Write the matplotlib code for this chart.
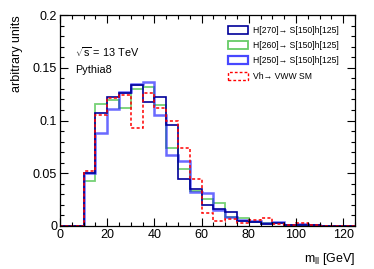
import numpy as np
import matplotlib
matplotlib.use("Agg")
import matplotlib.pyplot as plt
from matplotlib.patches import Patch
from matplotlib.ticker import MultipleLocator, FixedLocator

plt.rcParams['font.family'] = ['Liberation Sans', 'DejaVu Sans']
plt.rcParams['mathtext.fontset'] = 'custom'
plt.rcParams['mathtext.rm'] = 'Liberation Sans'
plt.rcParams['mathtext.it'] = 'Liberation Sans:italic'

# bin edges (GeV)
edges = np.arange(0, 130, 5)

h270 = [0, 0, 0.050, 0.107, 0.122, 0.126, 0.134, 0.118, 0.122, 0.096, 0.045, 0.035,
        0.020, 0.0158, 0.013, 0.005, 0.004, 0.002, 0.003, 0.001, 0.001, 0.0005, 0.0003, 0.0002, 0.0002]
h260 = [0, 0, 0.043, 0.116, 0.119, 0.112, 0.130, 0.132, 0.1147, 0.0736, 0.0537, 0.0335,
        0.026, 0.0215, 0.009, 0.0073, 0.004, 0.0025, 0.003, 0.0008, 0.0005, 0.0005, 0.0003, 0.0002, 0.0002]
h250 = [0, 0, 0.050, 0.088, 0.111, 0.127, 0.135, 0.1365, 0.105, 0.067, 0.062, 0.0325,
        0.0316, 0.015, 0.0085, 0.006, 0.0047, 0.0025, 0.0035, 0.001, 0.0015, 0.0005, 0.0003, 0.0002, 0.0002]
vh = [0, 0, 0.052, 0.105, 0.121, 0.124, 0.0926, 0.126, 0.1115, 0.100, 0.0736, 0.045,
      0.0126, 0.0047, 0.0066, 0.0025, 0.0057, 0.0073, 0.0016, 0.0005, 0.0025, 0.001, 0.0003, 0.0002, 0.0002]

labels = ["H[270]\u2192 S[150]h[125]", "H[260]\u2192 S[150]h[125]",
          "H[250]\u2192 S[150]h[125]", "Vh\u2192 VWW SM"]

c270 = '#000099'
c260 = '#66cc66'
c250 = '#1a1aff'
cvh = '#ff0000'

W, H = 374, 269
fig = plt.figure(figsize=(W / 100, H / 100), dpi=100)
ax = fig.add_axes([60 / W, 1 - 226 / H, 295 / W, 211 / H])

ax.stairs(h260, edges, color=c260, lw=1.3, alpha=0.9)
ax.stairs(h250, edges, color=c250, lw=1.8, alpha=0.65)
ax.stairs(h270, edges, color=c270, lw=1.2)
ax.stairs(vh, edges, color=cvh, lw=1.1, linestyle=(0, (2, 1.5)))

ax.set_xlim(0, 125)
ax.set_ylim(0, 0.2)
ax.xaxis.set_major_locator(FixedLocator([0, 20, 40, 60, 80, 100, 120]))
ax.xaxis.set_minor_locator(MultipleLocator(5))
ax.yaxis.set_major_locator(FixedLocator([0, 0.05, 0.1, 0.15, 0.2]))
ax.yaxis.set_minor_locator(MultipleLocator(0.01))
ax.set_yticklabels(['0', '0.05', '0.1', '0.15', '0.2'])
ax.tick_params(which='both', direction='in', top=True, right=True, labelsize=9, pad=2)
ax.tick_params(which='major', length=6, width=0.8)
ax.tick_params(which='minor', length=3, width=0.8)
for s in ax.spines.values():
    s.set_linewidth(0.9)

fig.text(17 / W, 1 - 15 / H, "arbitrary units", rotation=90, ha='center', va='top', fontsize=9)
fig.text(355 / W, 1 - 262 / H, r"m$_{\rm ll}$ [GeV]", ha='right', va='baseline', fontsize=9)

ax.text((75 - 60) / 295, 1 - (52 - 15) / 211, r"$\sqrt{\rm s}$ = 13 TeV",
        transform=ax.transAxes, ha='left', va='center', fontsize=7.8)
ax.text((75 - 60) / 295, 1 - (70 - 15) / 211, "Pythia8",
        transform=ax.transAxes, ha='left', va='center', fontsize=7.8)

handles = [Patch(facecolor='none', edgecolor=c270, lw=1.2),
           Patch(facecolor='none', edgecolor=c260, lw=1.3),
           Patch(facecolor='none', edgecolor=c250, lw=1.6, alpha=0.8),
           Patch(facecolor='none', edgecolor=cvh, lw=1.0, linestyle=(0, (2, 1.5)))]
leg = ax.legend(handles, labels, loc='upper left',
                bbox_to_anchor=((228 - 60) / 295, 1 - (26 - 15) / 211),
                fontsize=6.2, frameon=False, handlelength=2.3, handleheight=1.05,
                labelspacing=0.72, handletextpad=0.6, borderaxespad=0, borderpad=0)

fig.savefig("out.png", dpi=100)
